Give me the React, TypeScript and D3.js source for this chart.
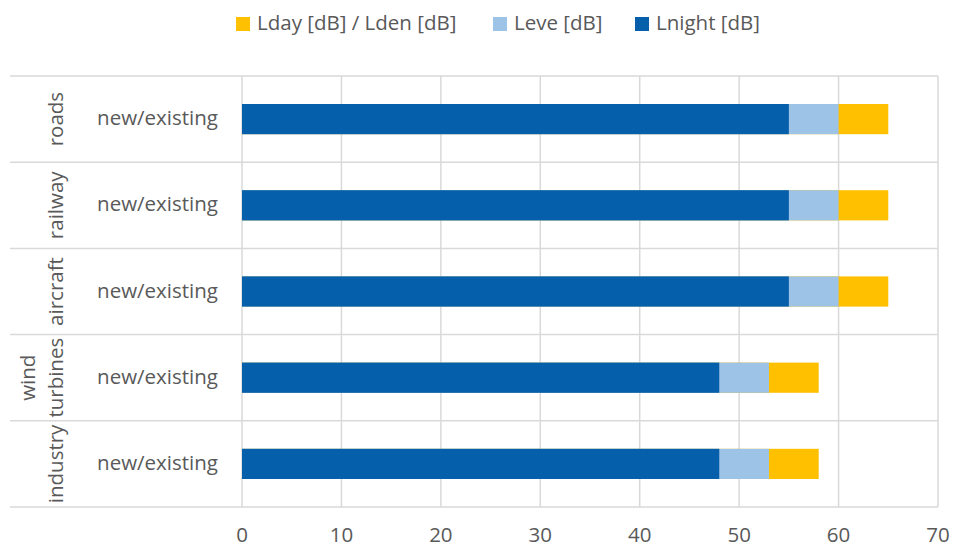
import React from 'react';
import * as d3 from 'd3';

const categories = ['roads', 'railway', 'aircraft', 'wind turbines', 'industry'];
const categoryLines = [['roads'], ['railway'], ['aircraft'], ['wind', 'turbines'], ['industry']];
const subLabel = 'new/existing';
const lnight = [55, 55, 55, 48, 48];
const leve = [60, 60, 60, 53, 53];
const lden = [65, 65, 65, 58, 58];
const seriesNames = ['Lday [dB] / Lden [dB]', 'Leve [dB]', 'Lnight [dB]'];
const xTicks = [0, 10, 20, 30, 40, 50, 60, 70];

const COLORS = ['#FFC000', '#9DC3E6', '#055FAA'];
const GRID = '#D9D9D9';
const TEXT = '#595959';
const FONT = "'Open Sans', sans-serif";
const FS = 20.5;

export default function App() {
  const W = 955;
  const H = 549;
  const x = d3.scaleLinear().domain([0, 70]).range([242, 938]);
  const y = d3.scaleBand<string>().domain(categories).range([76, 507]).paddingInner(0).paddingOuter(0);
  const bw = y.bandwidth();
  const barH = bw * 0.35;
  const series = [lden, leve, lnight];
  const legendX = [236, 493, 635];
  const boundaries = [...categories.map((c) => y(c) as number), 507];

  return (
    <svg width={W} height={H} style={{ position: 'absolute', left: 0, top: 0, background: '#fff' }}
      fontFamily={FONT} fontSize={FS}>
      <rect x={0} y={0} width={W} height={H} fill="#fff" />
      {/* legend */}
      {seriesNames.map((n, i) => (
        <g key={n}>
          <rect x={legendX[i]} y={17} width={14} height={14} fill={COLORS[i]} />
          <text x={legendX[i] + 21} y={30} fill={TEXT}>{n}</text>
        </g>
      ))}
      {/* vertical gridlines */}
      {xTicks.map((t) => (
        <line key={'g' + t} x1={x(t)} x2={x(t)} y1={76} y2={507} stroke={GRID} strokeWidth={1.5} />
      ))}
      {/* horizontal category separators */}
      {boundaries.map((b, i) => (
        <line key={'h' + i} x1={10} x2={938} y1={b} y2={b} stroke={GRID} strokeWidth={1.5} />
      ))}
      {/* bars */}
      {series.map((s, si) =>
        categories.map((c, ci) => (
          <rect key={si + '-' + c} x={x(0)} y={(y(c) as number) + bw / 2 - barH / 2}
            width={x(s[ci]) - x(0)} height={barH} fill={COLORS[si]} />
        ))
      )}
      {/* sub labels */}
      {categories.map((c) => (
        <text key={'s' + c} x={157.5} y={(y(c) as number) + bw / 2 + 6} textAnchor="middle" fill={TEXT}>{subLabel}</text>
      ))}
      {/* category labels, rotated */}
      {categories.map((c, ci) => {
        const cy = (y(c) as number) + bw / 2;
        const lines = categoryLines[ci];
        return lines.map((ln, li) => {
          const bx = 63 - (lines.length - 1 - li) * 28;
          return (
            <text key={c + li} transform={`translate(${bx},${cy}) rotate(-90)`} textAnchor="middle" fill={TEXT}>{ln}</text>
          );
        });
      })}
      {/* x tick labels */}
      {xTicks.map((t) => (
        <text key={'t' + t} x={x(t)} y={542} textAnchor="middle" fill={TEXT}>{t}</text>
      ))}
    </svg>
  );
}
